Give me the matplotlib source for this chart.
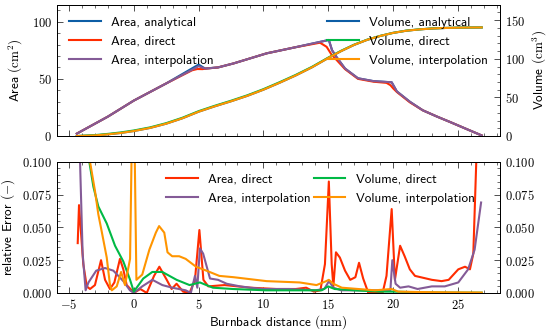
import matplotlib
matplotlib.use('Agg')
import matplotlib.pyplot as plt
from matplotlib.ticker import AutoMinorLocator, MultipleLocator, FuncFormatter

# colours (science style palette)
BLUE, GREEN, ORANGE, RED, PURPLE = '#0C5DA5', '#00B945', '#FF9500', '#FF2C00', '#845B97'

# --- top panel: area and volume over burnback distance ---
x_area = [-4.4, -2, 0, 2.5, 5.0, 5.5, 6.5, 7.7, 10.25, 12.5, 15.05, 15.3, 15.65, 16.3,
          17.3, 18.5, 19.9, 20.3, 21.3, 22.3, 23.4, 24.4, 25.6, 26.85]
area_analytical = [2.1, 17, 31, 46, 62.5, 59, 60, 63.5, 72.3, 77.7, 84, 75, 69, 59,
                   50.5, 48, 47, 39, 30, 22.5, 17, 12.3, 6.5, 0.5]
area_interp = [2.1, 17, 31, 46, 61, 59, 60, 63.5, 72.3, 77.7, 84, 75, 69, 59,
               50.5, 48, 47, 39, 30, 22.5, 17, 12.3, 6.5, 0.5]

x_area_direct = [-4.4, -2, 0, 2.5, 4.5, 4.9, 5.3, 5.6, 6.5, 7.7, 10.25, 12.5, 14.37, 14.88,
                 15.27, 15.65, 16.3, 17.3, 18.5, 19.5, 19.8, 20.03, 20.3, 20.8, 21.3, 22.3,
                 23.4, 24.4, 25.6, 26.85]
area_direct = [2.1, 17, 31, 46, 57.5, 58.6, 58.5, 59, 60, 63.5, 72.3, 77.7, 81.6, 78,
               71, 66.5, 58.5, 50, 47.5, 46.5, 44.5, 41.5, 38.5, 34, 29.5, 22.5,
               17, 12.3, 6.5, 0.5]

x_vol = [-4.4, -3, -2, -1, 0, 1.25, 2.5, 3.75, 5, 6.25, 7.5, 8.75, 10, 11.25, 12.5, 13.75,
         15, 16, 17, 18, 19, 20, 21, 22, 23, 24, 25, 26, 26.85]
vol_analytical = [0, 0.8, 2.2, 4, 6.5, 10.5, 16, 23, 31.5, 38.5, 45, 52, 60, 69, 78.5, 89,
                  101, 110, 118, 124.5, 129.5, 133.5, 136.3, 138, 139.2, 139.9, 140.3, 140.5, 140.6]
vol_direct = [0, 1.2, 2.8, 4.7, 7.2, 11.2, 16.7, 23.7, 32.2, 39.2, 45.7, 52.7, 60.7, 69.7, 79.2, 89.6,
              101.5, 110.4, 118.3, 124.7, 129.6, 133.6, 136.4, 138.1, 139.3, 139.9, 140.3, 140.5, 140.6]
vol_interp = [0, 0.8, 2.2, 4, 6.5, 10.5, 16, 23, 31.5, 38.5, 45, 52, 60, 69, 78.5, 89,
              101, 110, 118, 124.5, 129.5, 133.5, 136.3, 138, 139.2, 139.9, 140.3, 140.5, 140.6]

# --- bottom panel: relative errors ---
x_err_ad = [-4.33, -4.23, -3.9, -3.63, -3.38, -3.0, -2.53, -2.22, -1.84, -1.5, -1.07, -0.81, -0.55,
            -0.16, 0.0, 0.5, 1.0, 1.56, 1.97, 2.54, 2.92, 3.3, 3.8, 4.3, 4.72, 5.06, 5.37, 5.75,
            7, 9, 11, 12.5, 13.3, 13.9, 14.4, 14.75, 15.05, 15.27, 15.4, 15.6, 15.9, 16.3, 16.7,
            17.1, 17.38, 17.7, 18.1, 19.2, 19.5, 19.9, 20.15, 20.55, 20.9, 21.3, 21.7, 23.0,
            23.75, 24.3, 25.04, 25.56, 25.94, 26.2, 26.46, 26.6]
err_area_direct = [0.038, 0.067, 0.022, 0.005, 0.003, 0.006, 0.025, 0.010, 0.003, 0.008, 0.026, 0.018,
                   0.006, 0.002, 0.0, 0.003, 0.0, 0.013, 0.020, 0.010, 0.003, 0.007, 0.001, 0.0,
                   0.010, 0.048, 0.010, 0.005, 0.006, 0.004, 0.003, 0.003, 0.004, 0.001, 0.002,
                   0.022, 0.085, 0.022, 0.005, 0.031, 0.027, 0.017, 0.010, 0.012, 0.023, 0.011,
                   0.0, 0.0, 0.013, 0.064, 0.010, 0.036, 0.028, 0.018, 0.013, 0.010, 0.009, 0.010,
                   0.018, 0.020, 0.018, 0.030, 0.11, 0.16]

x_err_ai = [-4.35, -4.15, -3.95, -3.72, -3.5, -2.9, -2.22, -1.58, -0.81, -0.3, 0.0, 0.65, 1.43,
            2.2, 2.96, 4.0, 4.4, 4.72, 4.9, 5.1, 5.35, 5.88, 6.5, 7.17, 8.2, 9.0, 10, 12, 14,
            14.7, 15.06, 15.4, 16, 18, 19.8, 19.95, 20.2, 20.55, 21.2, 21.9, 23.0, 24.0, 25.04,
            25.8, 26.3, 26.8]
err_area_interp = [0.2, 0.1, 0.03, 0.002, 0.008, 0.017, 0.019, 0.017, 0.009, 0.002, 0.0, 0.005,
                   0.010, 0.006, 0.004, 0.002, 0.0, 0.013, 0.004, 0.034, 0.030, 0.011, 0.010,
                   0.007, 0.005, 0.004, 0.003, 0.003, 0.002, 0.003, 0.009, 0.004, 0.002, 0.002,
                   0.002, 0.025, 0.007, 0.004, 0.005, 0.003, 0.005, 0.005, 0.008, 0.018, 0.033,
                   0.069]

x_err_vd = [-4.4, -4.0, -3.6, -3.12, -2.74, -2.09, -1.45, -0.81, -0.29, 0.0, 0.73, 1.43, 2.2,
            3.3, 4.3, 5.1, 6.1, 7.65, 10.2, 13, 14.5, 15.0, 15.5, 17, 19, 20, 22, 24, 26.85]
err_vol_direct = [0.6, 0.2, 0.11, 0.081, 0.066, 0.053, 0.036, 0.024, 0.010, 0.001, 0.011, 0.016,
                  0.016, 0.010, 0.006, 0.008, 0.004, 0.003, 0.002, 0.002, 0.002, 0.005, 0.003,
                  0.002, 0.001, 0.001, 0.0005, 0.0003, 0.0002]

x_err_vi = [-4.4, -3.8, -3.38, -3.0, -2.74, -2.48, -2.09, -1.84, -1.7, -1.32, -0.98, -0.68, -0.29,
            -0.15, -0.05, 0.05, 0.2, 0.65, 1.2, 1.7, 1.95, 2.35, 2.6, 2.96, 3.5, 4.0, 4.8, 5.6,
            6.6, 7.7, 10.25, 12.8, 14.1, 14.85, 15.05, 15.4, 16.05, 18.6, 19.9, 20.4, 22, 24, 26.85]
err_vol_interp = [0.8, 0.25, 0.1, 0.078, 0.06, 0.047, 0.027, 0.006, 0.002, 0.005, 0.016, 0.006,
                  0.026, 0.12, 0.2, 0.12, 0.010, 0.014, 0.033, 0.046, 0.051, 0.046, 0.031, 0.028,
                  0.028, 0.026, 0.020, 0.017, 0.013, 0.012, 0.009, 0.008, 0.006, 0.009, 0.010,
                  0.007, 0.004, 0.002, 0.003, 0.001, 0.0007, 0.0005, 0.0003]

plt.rcParams['font.family'] = ['cmss10', 'DejaVu Sans']
plt.rcParams['mathtext.fontset'] = 'cm'
plt.rcParams['font.size'] = 9.5
plt.rcParams['xtick.labelsize'] = 9
plt.rcParams['ytick.labelsize'] = 9
plt.rcParams['axes.unicode_minus'] = False
plt.rcParams['axes.linewidth'] = 0.7
plt.rcParams['legend.frameon'] = False
plt.rcParams['legend.handlelength'] = 2.4


def math_fmt(dec):
    def f(v, pos):
        s = f'{v:.{dec}f}'
        return r'$\mathrm{' + s + '}$'
    return FuncFormatter(f)


def style(ax, left=True, right=False):
    ax.tick_params(which='both', direction='in', top=True, bottom=True,
                   left=left, right=right, colors='#333333', labelcolor='black')
    ax.tick_params(which='major', length=4, width=0.6)
    ax.tick_params(which='minor', length=2, width=0.5)
    ax.xaxis.set_minor_locator(AutoMinorLocator(5))
    ax.yaxis.set_minor_locator(AutoMinorLocator(5))


fig = plt.figure(figsize=(5.5, 3.31), dpi=100)
ax1 = fig.add_axes([0.1036, 0.589, 0.8055, 0.396])
ax2 = fig.add_axes([0.1036, 0.115, 0.8055, 0.396], sharex=ax1)

lw = 1.5
# top panel
ax1.plot(x_area, area_analytical, color=BLUE, lw=lw, label='Area, analytical')
ax1.plot(x_area_direct, area_direct, color=RED, lw=lw, label='Area, direct')
ax1.plot(x_area, area_interp, color=PURPLE, lw=lw, label='Area, interpolation')
ax1t = ax1.twinx()
ax1t.plot(x_vol, vol_analytical, color=BLUE, lw=lw, label='Volume, analytical')
ax1t.plot(x_vol, vol_direct, color=GREEN, lw=lw, label='Volume, direct')
ax1t.plot(x_vol, vol_interp, color=ORANGE, lw=lw, label='Volume, interpolation')

ax1.set_xlim(-5.93, 28.26)
ax1.set_ylim(0, 114.6)
ax1t.set_ylim(0, 169.7)
ax1.xaxis.set_major_locator(MultipleLocator(5))
ax1.yaxis.set_major_locator(MultipleLocator(50))
ax1t.yaxis.set_major_locator(MultipleLocator(50))
style(ax1)
style(ax1t, left=False, right=True)
ax1.tick_params(labelbottom=False)
ax1.yaxis.set_major_formatter(math_fmt(0))
ax1t.yaxis.set_major_formatter(math_fmt(0))
ax1.set_ylabel(r'Area $(\mathrm{cm}^2)$', labelpad=5)
ax1t.set_ylabel(r'Volume $(\mathrm{cm}^3)$')
ax1.legend(loc='upper left')
ax1t.legend(loc='upper right')

# bottom panel
l1, = ax2.plot(x_err_ad, err_area_direct, color=RED, lw=lw, label='Area, direct')
l2, = ax2.plot(x_err_ai, err_area_interp, color=PURPLE, lw=lw, label='Area, interpolation')
ax2t = ax2.twinx()
l3, = ax2t.plot(x_err_vd, err_vol_direct, color=GREEN, lw=lw, label='Volume, direct')
l4, = ax2t.plot(x_err_vi, err_vol_interp, color=ORANGE, lw=lw, label='Volume, interpolation')
ax2.set_ylim(0, 0.1)
ax2t.set_ylim(0, 0.1)
ax2.yaxis.set_major_locator(MultipleLocator(0.025))
ax2t.yaxis.set_major_locator(MultipleLocator(0.025))
style(ax2)
style(ax2t, left=False, right=True)
ax2.xaxis.set_major_formatter(math_fmt(0))
ax2.yaxis.set_major_formatter(math_fmt(3))
ax2t.yaxis.set_major_formatter(math_fmt(3))
ax2.set_ylabel(r'relative Error $(-)$')
ax2.set_xlabel(r'Burnback distance $(\mathrm{mm})$', labelpad=1)
ax2t.legend([l1, l2, l3, l4], [l.get_label() for l in (l1, l2, l3, l4)],
            ncol=2, loc='upper right', bbox_to_anchor=(0.97, 1.0), columnspacing=0.2)

fig.savefig('out.png', dpi=100)
